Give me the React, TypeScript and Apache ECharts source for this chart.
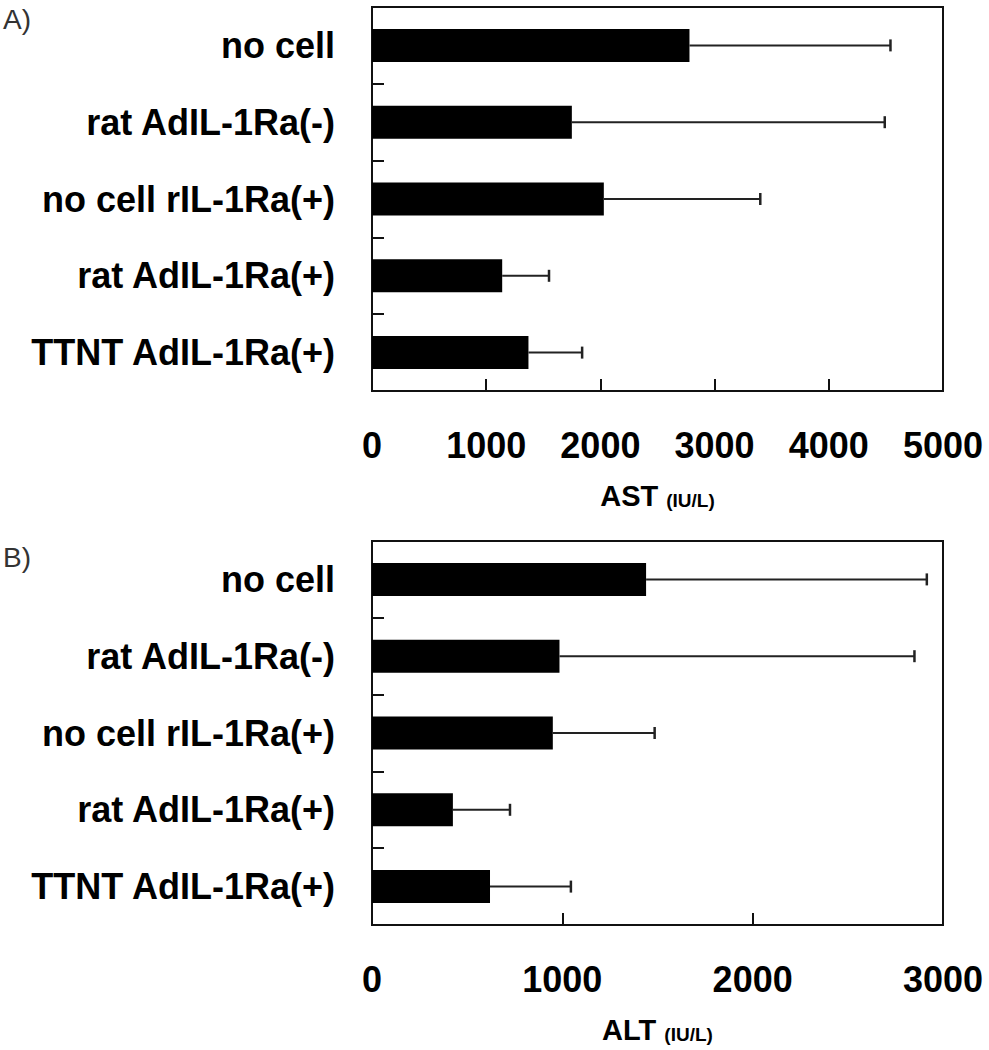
import React, { useEffect, useRef } from "react";
import * as echarts from "echarts";

const categories = [
  "no cell",
  "rat AdIL-1Ra(-)",
  "no cell rIL-1Ra(+)",
  "rat AdIL-1Ra(+)",
  "TTNT AdIL-1Ra(+)",
];
const astMean = [2780, 1750, 2030, 1140, 1370];
const astUpper = [4540, 4490, 3400, 1550, 1840];
const altMean = [1440, 985, 950, 425, 620];
const altUpper = [2915, 2850, 1485, 725, 1045];
const astMax = 5000;
const altMax = 3000;
const tickStep = 1000;

const FONT = '"Liberation Sans", Arial, Helvetica, sans-serif';
const INK = "#111";

function errData(mean: number[], upper: number[]) {
  return categories.map((_, i) => [i, mean[i], upper[i]]);
}

const renderErr = (params: any, api: any) => {
  const cat = api.value(0);
  const mean = api.value(1);
  const up = api.value(2);
  const p0 = api.coord([mean, cat]);
  const p1 = api.coord([up, cat]);
  return {
    type: "group",
    children: [
      {
        type: "line",
        shape: { x1: p0[0], y1: p0[1], x2: p1[0], y2: p1[1] },
        style: { stroke: "#222", lineWidth: 2 },
      },
      {
        type: "line",
        shape: { x1: p1[0], y1: p1[1] - 6, x2: p1[0], y2: p1[1] + 6 },
        style: { stroke: "#222", lineWidth: 2.5 },
      },
    ],
  };
};

function xAxisFor(gridIndex: number, max: number, label: string) {
  return {
    type: "value",
    gridIndex,
    min: 0,
    max,
    interval: tickStep,
    splitLine: { show: false },
    axisLine: { show: true, lineStyle: { color: INK, width: 2 } },
    axisTick: { show: true, inside: true, length: 12, lineStyle: { color: INK, width: 2 } },
    axisLabel: {
      margin: 36,
      fontSize: 36,
      fontWeight: "bold",
      fontFamily: FONT,
      color: "#000",
      formatter: (v: number) => String(v),
    },
    name: `{big|${label} }{small|(IU/L)}`,
    nameLocation: "middle",
    nameGap: 90,
    nameTextStyle: {
      rich: {
        big: { fontSize: 29, fontWeight: "bold", fontFamily: FONT, color: "#000", verticalAlign: "bottom" },
        small: { fontSize: 19, fontWeight: "bold", fontFamily: FONT, color: "#000", verticalAlign: "bottom" },
      },
    },
  };
}

function yAxisFor(gridIndex: number) {
  return {
    type: "category",
    gridIndex,
    data: categories,
    inverse: true,
    axisLine: { show: true, lineStyle: { color: INK, width: 2 } },
    axisTick: { show: true, inside: true, length: 12, alignWithLabel: false, lineStyle: { color: INK, width: 2 } },
    axisLabel: {
      margin: 37,
      fontSize: 36,
      fontWeight: "bold",
      fontFamily: FONT,
      color: "#000",
    },
  };
}

export default function App() {
  const ref = useRef<HTMLDivElement>(null);
  useEffect(() => {
    if (!ref.current) return;
    const chart = echarts.init(ref.current, undefined, { renderer: "svg" });
    const gridCommon = {
      left: 372,
      width: 571,
      height: 384,
      show: true,
      borderColor: INK,
      borderWidth: 2,
      backgroundColor: "transparent",
      containLabel: false,
    };
    chart.setOption({
      animation: false,
      backgroundColor: "#fff",
      grid: [
        { ...gridCommon, top: 7 },
        { ...gridCommon, top: 541 },
      ],
      xAxis: [xAxisFor(0, astMax, "AST"), xAxisFor(1, altMax, "ALT")],
      yAxis: [yAxisFor(0), yAxisFor(1)],
      graphic: [
        {
          type: "text",
          left: 3,
          top: 5,
          style: { text: "A)", font: `normal 28px ${FONT}`, fill: "#333" },
        },
        {
          type: "text",
          left: 3,
          top: 543,
          style: { text: "B)", font: `normal 28px ${FONT}`, fill: "#333" },
        },
      ],
      series: [
        {
          type: "bar",
          xAxisIndex: 0,
          yAxisIndex: 0,
          data: astMean,
          barWidth: 33,
          itemStyle: { color: "#000" },
        },
        {
          type: "custom",
          xAxisIndex: 0,
          yAxisIndex: 0,
          data: errData(astMean, astUpper),
          encode: { x: [1, 2], y: 0 },
          renderItem: renderErr,
          z: 3,
        },
        {
          type: "bar",
          xAxisIndex: 1,
          yAxisIndex: 1,
          data: altMean,
          barWidth: 33,
          itemStyle: { color: "#000" },
        },
        {
          type: "custom",
          xAxisIndex: 1,
          yAxisIndex: 1,
          data: errData(altMean, altUpper),
          encode: { x: [1, 2], y: 0 },
          renderItem: renderErr,
          z: 3,
        },
      ],
    });
    return () => chart.dispose();
  }, []);
  return (
    <div
      ref={ref}
      style={{ position: "fixed", left: 0, top: 0, width: 989, height: 1050, background: "#fff" }}
    />
  );
}
